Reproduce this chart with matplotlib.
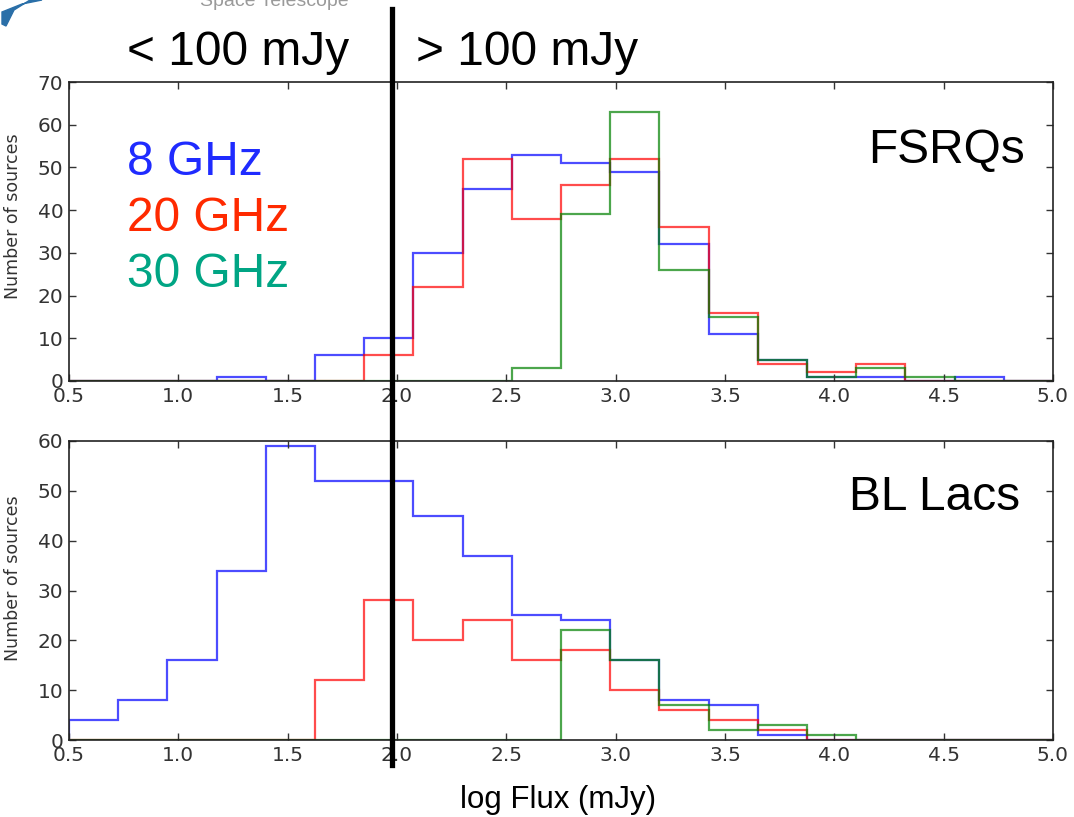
import numpy as np
import matplotlib
matplotlib.use("Agg")
import matplotlib.pyplot as plt
from matplotlib.lines import Line2D
from matplotlib.patches import Polygon

# bins in log flux (mJy), 20 bins from 0.5 to 5.0
bin_lo = 0.5
bin_hi = 5.0
n_bins = 20

# FSRQs counts per bin
fsrq_8ghz = [0, 0, 0, 1, 0, 6, 10, 30, 45, 53, 51, 49, 32, 11, 5, 1, 1, 0, 1, 0]
fsrq_20ghz = [0, 0, 0, 0, 0, 0, 6, 22, 52, 38, 46, 52, 36, 16, 4, 2, 4, 0, 0, 0]
fsrq_30ghz = [0, 0, 0, 0, 0, 0, 0, 0, 0, 3, 39, 63, 26, 15, 5, 1, 3, 1, 0, 0]

# BL Lacs counts per bin
bll_8ghz = [4, 8, 16, 34, 59, 52, 52, 45, 37, 25, 24, 16, 8, 7, 1, 0, 0, 0, 0, 0]
bll_20ghz = [0, 0, 0, 0, 0, 12, 28, 20, 24, 16, 18, 10, 6, 4, 2, 0, 0, 0, 0, 0]
bll_30ghz = [0, 0, 0, 0, 0, 0, 0, 0, 0, 0, 22, 16, 7, 2, 3, 1, 0, 0, 0, 0]

panel_names = ["FSRQs", "BL Lacs"]
freq_labels = ["8 GHz", "20 GHz", "30 GHz"]

edges = np.linspace(bin_lo, bin_hi, n_bins + 1)
hist_colors = ["#0000ff", "#ff0000", "#008000"]
label_colors = ["#1f2bff", "#ff2a00", "#00a584"]

W, H = 1074, 817
big = 34.5
fig = plt.figure(figsize=(W / 100, H / 100), dpi=100)

ax1 = fig.add_axes([69 / W, 1 - 381 / H, 984 / W, 299 / H])
ax2 = fig.add_axes([69 / W, 1 - 740 / H, 984 / W, 299 / H])

for ax, series, ymax in [
    (ax1, [fsrq_8ghz, fsrq_20ghz, fsrq_30ghz], 70),
    (ax2, [bll_8ghz, bll_20ghz, bll_30ghz], 60),
]:
    for vals, c in zip(series, hist_colors):
        ax.stairs(vals, edges, color=c, alpha=0.7, linewidth=1.6)
    ax.set_xlim(bin_lo, bin_hi)
    ax.set_ylim(0, ymax)
    ax.set_xticks(np.arange(0.5, 5.01, 0.5))
    ax.set_yticks(np.arange(0, ymax + 1, 10))
    ax.tick_params(direction="in", top=True, right=True, length=5,
                   width=1, color="#333333", pad=4)
    for lab in ax.get_xticklabels() + ax.get_yticklabels():
        lab.set_fontfamily("DejaVu Sans")
        lab.set_fontsize(14.5)
        lab.set_color("#333333")
    for sp in ax.spines.values():
        sp.set_color("#222222")
        sp.set_linewidth(1.2)
    ax.set_ylabel("Number of sources", fontsize=12.5, color="#333333",
                  family="DejaVu Sans")

ax1.yaxis.set_label_coords(-0.048, 0.55)
ax2.yaxis.set_label_coords(-0.048, 0.54)

# panel names
ax1.text((1025 - 69) / 984, (381 - 163) / 299, panel_names[0],
         transform=ax1.transAxes, fontsize=big, family="Liberation Sans",
         ha="right", va="baseline")
ax2.text((1020 - 69) / 984, (740 - 510) / 299, panel_names[1],
         transform=ax2.transAxes, fontsize=big, family="Liberation Sans",
         ha="right", va="baseline")

# frequency labels
for i, (lab, c) in enumerate(zip(freq_labels, label_colors)):
    fig.text(127 / W, 1 - [175, 231, 287][i] / H, lab, color=c,
             fontsize=big, family="Liberation Sans", va="baseline")

# flux thresholds
fig.text(127 / W, 1 - 65 / H, "< 100 mJy", fontsize=big,
         family="Liberation Sans", va="baseline")
fig.text(416 / W, 1 - 65 / H, "> 100 mJy", fontsize=big,
         family="Liberation Sans", va="baseline")

fig.text(558 / W, 1 - 808 / H, "log Flux (mJy)", fontsize=22.5,
         family="Liberation Sans", ha="center", va="baseline")

# 100 mJy divider
fig.add_artist(Line2D([392 / W, 392 / W], [1 - 9 / H, 1 - 765 / H],
                      transform=fig.transFigure, color="black", linewidth=3.8))

# partial logo at the top edge
swoosh = [(2, 12), (22, 4), (42, 0), (30, 0), (14, 10), (6, 26), (2, 24)]
fig.add_artist(Polygon([(x / W, 1 - y / H) for x, y in swoosh], closed=True,
                       transform=fig.transFigure, color="#2a6fa8"))
fig.text(200 / W, 1 - 2 / H, "Space Telescope", fontsize=14, color="#9a9a9a",
         family="Liberation Sans", va="center")

fig.savefig("out.png", dpi=100)
